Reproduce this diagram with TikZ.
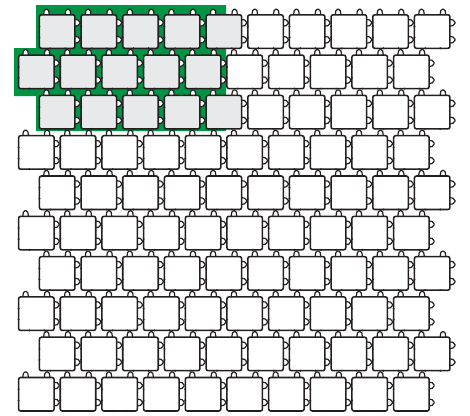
\documentclass[tikz,border=0pt]{standalone}
\definecolor{lego}{RGB}{0,148,68}
\definecolor{tile}{RGB}{232,233,234}
\definecolor{ink}{RGB}{35,31,32}
\tikzset{
  tabshape/.style={draw=ink, fill=white, line width=1.2pt, rounded corners=1.4pt},
  tilebox/.style={draw=ink, line width=1.55pt, rounded corners=2pt, minimum width=35.5pt,
    minimum height=33.5pt, inner sep=0pt, outer sep=0pt, anchor=north west},
  dotmark/.style={fill=ink, draw=none}
}
\begin{document}
\begin{tikzpicture}[x=1pt,y=-1pt]
\useasboundingbox (0,0) rectangle (470,415);
% green highlighted area
\fill[lego] (36,5) -- (226,5) -- (226,131) -- (36,131) -- (36,96) -- (14,96) -- (14,48) -- (36,48) -- cycle;
\foreach \r in {0,...,9}{
  \pgfmathsetmacro{\xo}{18.6 + 20.83*(1-mod(\r,2))}
  \pgfmathsetmacro{\yo}{14.8 + 40.3*\r}
  \foreach \c in {0,...,9}{
    \pgfmathsetmacro{\xx}{\xo+41.67*\c}
    \pgfmathtruncatemacro{\g}{and(\r<3,\c<5)}
    \ifnum\g=1 \def\fc{tile}\else\def\fc{white}\fi
    % top tabs
    \draw[tabshape] (\xx+4,\yo+1) -- (\xx+5,\yo-5.5) -- (\xx+9,\yo-5.5) -- (\xx+10,\yo+1);
    \draw[tabshape] (\xx+25.5,\yo+1) -- (\xx+26.5,\yo-5.5) -- (\xx+30.5,\yo-5.5) -- (\xx+31.5,\yo+1);
    % right tabs
    \draw[tabshape,rounded corners=2pt] (\xx+34.5,\yo+4.5) -- (\xx+40.5,\yo+5.5) -- (\xx+40.5,\yo+10.5) -- (\xx+34.5,\yo+11.5);
    \draw[tabshape,rounded corners=2pt] (\xx+34.5,\yo+21.5) -- (\xx+40.5,\yo+22.5) -- (\xx+40.5,\yo+27.5) -- (\xx+34.5,\yo+28.5);
    % tile
    \node[tilebox, fill=\fc] (t-\r-\c) at (\xx,\yo) {};
    % receptacle dots
    \fill[dotmark] (t-\r-\c.west) ++(0,-5) circle (1.1pt);
    \fill[dotmark] (t-\r-\c.west) ++(0,6) circle (1.1pt);
    \fill[dotmark] (t-\r-\c.south) ++(-7,0) circle (1.1pt);
    \fill[dotmark] (t-\r-\c.south) ++(8,0) circle (1.1pt);
  }
}
\end{tikzpicture}
\end{document}
